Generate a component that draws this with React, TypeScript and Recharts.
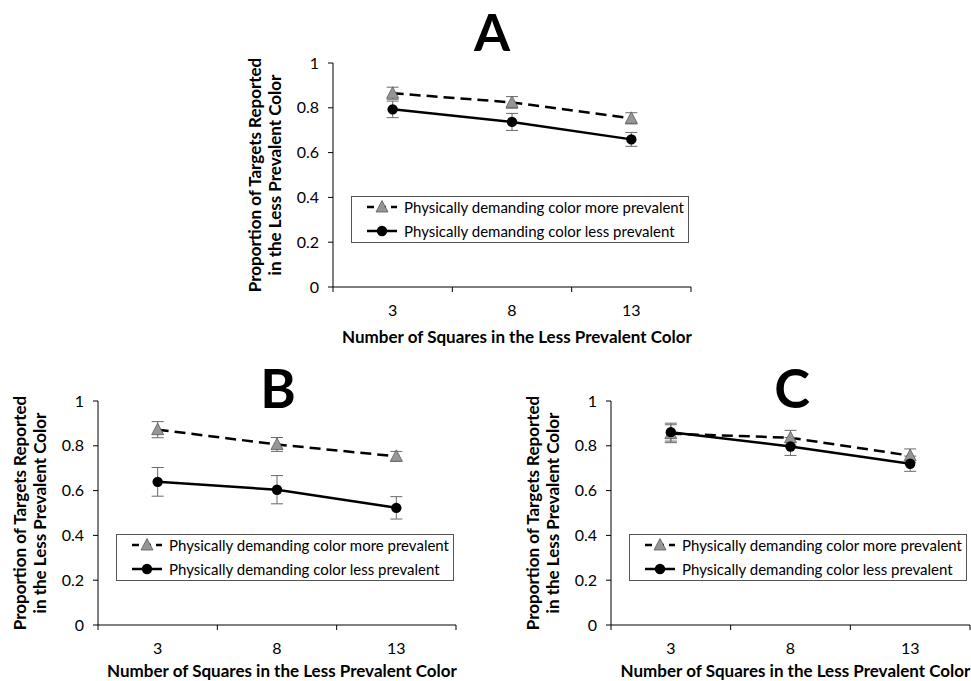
import React from "react";
import { LineChart, Line, XAxis, YAxis, ErrorBar, Legend, Label } from "recharts";

// x categories (number of squares) placed at positions 1..3
const xPositions = [1, 2, 3];
const xLabels = ["3", "8", "13"];
const yTicks = [0, 0.2, 0.4, 0.6, 0.8, 1];

// Panel A
const aMore = [0.865, 0.824, 0.753];
const aMoreErr = [0.027, 0.026, 0.025];
const aLess = [0.793, 0.737, 0.659];
const aLessErr = [0.037, 0.038, 0.031];

// Panel B
const bMore = [0.872, 0.806, 0.753];
const bMoreErr = [0.036, 0.031, 0.022];
const bLess = [0.639, 0.604, 0.523];
const bLessErr = [0.064, 0.063, 0.05];

// Panel C
const cMore = [0.854, 0.836, 0.756];
const cMoreErr = [0.04, 0.033, 0.03];
const cLess = [0.861, 0.797, 0.72];
const cLessErr = [0.04, 0.04, 0.034];

const MORE_NAME = "Physically demanding color more prevalent";
const LESS_NAME = "Physically demanding color less prevalent";
const FONT = "Lato, 'Noto Sans', sans-serif";

const Y_AXIS_W = 40;
const X_AXIS_H = 60;
const PLOT_H = 224;

function buildRows(more: number[], moreErr: number[], less: number[], lessErr: number[]) {
  return xPositions.map((x, i) => ({
    x,
    more: more[i],
    moreErr: moreErr[i],
    less: less[i],
    lessErr: lessErr[i],
  }));
}

const TriangleDot = (p: any) => {
  const { cx, cy, index } = p;
  if (cx == null || cy == null) return null;
  return (
    <polygon
      key={`t${index}`}
      points={`${cx},${cy - 6.5} ${cx - 6},${cy + 5} ${cx + 6},${cy + 5}`}
      fill="#969696"
      stroke="#5a5a5a"
      strokeWidth={0.8}
    />
  );
};

const CircleDot = (p: any) => {
  const { cx, cy, index } = p;
  if (cx == null || cy == null) return null;
  return <circle key={`c${index}`} cx={cx} cy={cy} r={5.2} fill="#000" />;
};

const XTick = (p: any) => {
  const { x, y, payload } = p;
  const v = payload.value as number;
  if (v % 1 !== 0) {
    return <line x1={x} x2={x} y1={y} y2={y + 5} stroke="#000" strokeWidth={1} />;
  }
  return (
    <text x={x} y={y + 29} textAnchor="middle" fontSize={16} fontFamily={FONT} fill="#000">
      {xLabels[v - 1]}
    </text>
  );
};

function LegendBox() {
  const row = (dashed: boolean, name: string) => (
    <div style={{ display: "flex", alignItems: "center", height: 24 }}>
      <svg width={40} height={16} style={{ flex: "none" }}>
        <line
          x1={5}
          x2={35}
          y1={8}
          y2={8}
          stroke="#000"
          strokeWidth={2.5}
          strokeDasharray={dashed ? "7 5" : undefined}
        />
        {dashed ? (
          <polygon points="20,1.5 14,13 26,13" fill="#969696" stroke="#5a5a5a" strokeWidth={0.8} />
        ) : (
          <circle cx={20} cy={8} r={5.2} fill="#000" />
        )}
      </svg>
      <span style={{ fontSize: 15, fontFamily: FONT, color: "#000", whiteSpace: "nowrap", marginLeft: 2 }}>
        {name}
      </span>
    </div>
  );
  return (
    <div
      style={{
        border: "1px solid #555",
        background: "#fff",
        boxSizing: "border-box",
        width: 338,
        height: 47,
        paddingLeft: 10,
        overflow: "hidden",
      }}
    >
      <div style={{ position: "relative", top: -2 }}>
        {row(true, MORE_NAME)}
        {row(false, LESS_NAME)}
      </div>
    </div>
  );
}

type PanelProps = {
  title: string;
  titleX: number;
  titleTop: number;
  titleSize: number;
  left: number;
  top: number;
  width: number;
  height: number;
  plotLeft: number;
  plotTop: number;
  plotRight: number;
  xLabelShift: number;
  xLabelDrop: number;
  rows: ReturnType<typeof buildRows>;
};

function Panel(props: PanelProps) {
  const {
    title, titleX, titleTop, titleSize, left, top, width, height,
    plotLeft, plotTop, plotRight, xLabelShift, xLabelDrop, rows,
  } = props;
  const margin = {
    top: plotTop,
    right: plotRight,
    left: plotLeft - Y_AXIS_W,
    bottom: height - plotTop - PLOT_H - X_AXIS_H,
  };
  return (
    <>
      <div
        style={{
          position: "absolute",
          left: titleX - 50,
          top: titleTop,
          width: 100,
          textAlign: "center",
          fontFamily: FONT,
          fontWeight: 700,
          fontSize: titleSize,
          lineHeight: "normal",
          color: "#000",
        }}
      >
        {title}
      </div>
      <div style={{ position: "absolute", left, top }}>
        <LineChart width={width} height={height} data={rows} margin={margin}>
          <XAxis
            dataKey="x"
            type="number"
            domain={[0.5, 3.5]}
            ticks={[0.5, 1, 1.5, 2, 2.5, 3, 3.5]}
            interval={0}
            height={X_AXIS_H}
            tickSize={0}
            tickMargin={0}
            tickLine={false}
            axisLine={{ stroke: "#000", strokeWidth: 1 }}
            tick={<XTick />}
          >
            <Label
              content={(lp: any) => {
                const vb = lp.viewBox || {};
                return (
                  <text
                    x={vb.x + vb.width / 2 + xLabelShift}
                    y={vb.y + xLabelDrop}
                    textAnchor="middle"
                    fontSize={17}
                    fontWeight={700}
                    fontFamily={FONT}
                    fill="#000"
                  >
                    Number of Squares in the Less Prevalent Color
                  </text>
                );
              }}
            />
          </XAxis>
          <YAxis
            type="number"
            domain={[0, 1]}
            ticks={yTicks}
            interval={0}
            width={Y_AXIS_W}
            tickSize={5}
            tickMargin={9}
            tickLine={{ stroke: "#000" }}
            axisLine={{ stroke: "#000", strokeWidth: 1 }}
            tick={{ fontSize: 16, fontFamily: FONT, fill: "#000" }}
            tickFormatter={(v: number) => String(v)}
          >
            <Label
              content={(lp: any) => {
                const vb = lp.viewBox || {};
                const axisX = vb.x + vb.width;
                const cy = vb.y + vb.height / 2;
                const style = { fontSize: 17, fontWeight: 700, fontFamily: FONT, fill: "#000" } as any;
                return (
                  <g>
                    <text
                      transform={`translate(${axisX - 72},${cy}) rotate(-90)`}
                      textAnchor="middle"
                      {...style}
                    >
                      Proportion of Targets Reported
                    </text>
                    <text
                      transform={`translate(${axisX - 52},${cy}) rotate(-90)`}
                      textAnchor="middle"
                      {...style}
                    >
                      in the Less Prevalent Color
                    </text>
                  </g>
                );
              }}
            />
          </YAxis>
          <Legend
            layout="vertical"
            align="center"
            verticalAlign="middle"
            content={() => <LegendBox />}
            wrapperStyle={{
              left: plotLeft + 18,
              top: plotTop + PLOT_H * 0.6 - 1,
              width: 338,
              height: 47,
            }}
          />
          <Line
            type="linear"
            dataKey="more"
            name={MORE_NAME}
            stroke="#000"
            strokeWidth={2.5}
            strokeDasharray="11 6"
            dot={TriangleDot}
            activeDot={false}
            isAnimationActive={false}
          >
            <ErrorBar dataKey="moreErr" direction="y" width={6} stroke="#6a6a6a" strokeWidth={1} />
          </Line>
          <Line
            type="linear"
            dataKey="less"
            name={LESS_NAME}
            stroke="#000"
            strokeWidth={2.5}
            dot={CircleDot}
            activeDot={false}
            isAnimationActive={false}
          >
            <ErrorBar dataKey="lessErr" direction="y" width={6} stroke="#6a6a6a" strokeWidth={1} />
          </Line>
        </LineChart>
      </div>
    </>
  );
}

export default function App() {
  return (
    <div
      style={{
        position: "absolute",
        left: 0,
        top: 0,
        width: 971,
        height: 681,
        background: "#fff",
        overflow: "hidden",
      }}
    >
      <Panel
        title="A"
        titleX={492}
        titleTop={0}
        titleSize={52}
        left={240}
        top={50}
        width={470}
        height={300}
        plotLeft={93}
        plotTop={13}
        plotRight={19}
        xLabelShift={5}
        xLabelDrop={56}
        rows={buildRows(aMore, aMoreErr, aLess, aLessErr)}
      />
      <Panel
        title="B"
        titleX={278}
        titleTop={355}
        titleSize={54}
        left={0}
        top={380}
        width={475}
        height={301}
        plotLeft={98}
        plotTop={21}
        plotRight={19}
        xLabelShift={5}
        xLabelDrop={52}
        rows={buildRows(bMore, bMoreErr, bLess, bLessErr)}
      />
      <Panel
        title="C"
        titleX={792}
        titleTop={355}
        titleSize={54}
        left={500}
        top={380}
        width={471}
        height={301}
        plotLeft={111}
        plotTop={21}
        plotRight={1}
        xLabelShift={5}
        xLabelDrop={52}
        rows={buildRows(cMore, cMoreErr, cLess, cLessErr)}
      />
    </div>
  );
}
